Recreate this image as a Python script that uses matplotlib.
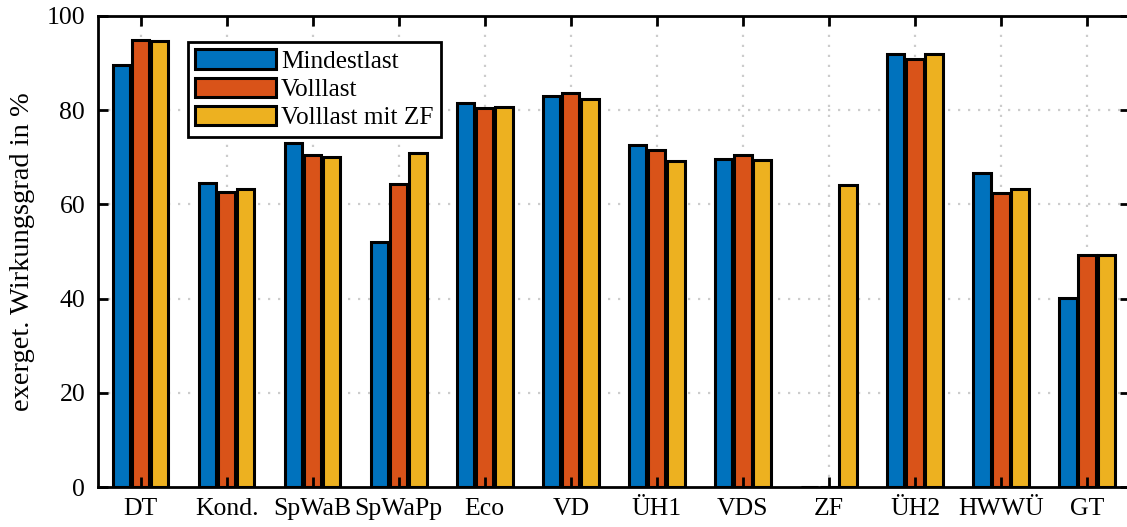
import matplotlib
matplotlib.use("Agg")
import matplotlib.pyplot as plt
import numpy as np

plt.rcParams['font.family'] = ['Liberation Serif', 'DejaVu Serif']
plt.rcParams['font.size'] = 18.5

categories = ['DT', 'Kond.', 'SpWaB', 'SpWaPp', 'Eco', 'VD', 'ÜH1', 'VDS',
              'ZF', 'ÜH2', 'HWWÜ', 'GT']
mindestlast = [89.6, 64.5, 73.0, 51.9, 81.6, 82.9, 72.6, 69.7, 0.0, 91.8, 66.6, 40.1]
volllast = [94.9, 62.7, 70.4, 64.3, 80.4, 83.6, 71.6, 70.4, 0.0, 90.9, 62.5, 49.2]
volllast_zf = [94.7, 63.2, 70.0, 70.9, 80.6, 82.3, 69.2, 69.4, 64.0, 91.8, 63.2, 49.2]
series_names = ['Mindestlast', 'Volllast', 'Volllast mit ZF']
y_ticks = [0, 20, 40, 60, 80, 100]

colors = ['#0072BD', '#D95319', '#EDB120']

fig = plt.figure(figsize=(11.27, 5.27), dpi=100)
ax = fig.add_axes([0.0867, 0.0759, 0.916, 0.894])

x = np.arange(1, len(categories) + 1)
width = 0.2
step = 0.222
for i, (vals, name, col) in enumerate(zip([mindestlast, volllast, volllast_zf],
                                          series_names, colors)):
    ax.bar(x + (i - 1) * step, vals, width, color=col, edgecolor='black',
           linewidth=2.2, label=name, zorder=1)

ax.set_xlim(0.5, len(categories) + 0.5)
ax.set_ylim(0, 100)

# dotted grid behind the bars
for yt in y_ticks[1:-1]:
    ax.axhline(yt, color='#cccccc', linestyle=(0, (1, 3.5)), linewidth=1.6, zorder=0)
for xt in x:
    ax.axvline(xt, color='#cccccc', linestyle=(0, (1, 3.5)), linewidth=1.6, zorder=0)

ax.set_xticks(x)
ax.set_xticklabels(categories)
ax.set_yticks(y_ticks)
ax.tick_params(direction='in', length=7, width=2, top=True, right=True,
               color='black', labelsize=18.5)
ax.tick_params(axis='x', pad=8)
ax.tick_params(axis='y', pad=9)
for s in ax.spines.values():
    s.set_linewidth(2)
    s.set_zorder(3)

ax.set_ylabel('exerget. Wirkungsgrad in %', fontsize=20.5, labelpad=8)

leg = ax.legend(loc='upper left', bbox_to_anchor=(0.087, 0.945),
                frameon=True, fancybox=False, edgecolor='black', framealpha=1,
                fontsize=18.2, handlelength=3.2, handleheight=0.82,
                handletextpad=0.2, labelspacing=0.18, borderpad=0.3,
                borderaxespad=0)
leg.get_frame().set_linewidth(2)
leg.set_zorder(5)

fig.savefig('out.png', dpi=100)
